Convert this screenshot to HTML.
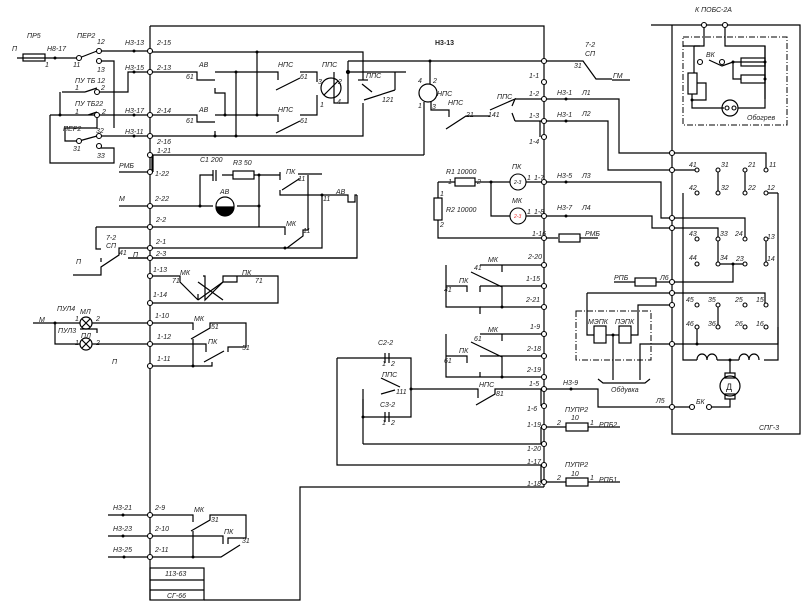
<!DOCTYPE html>
<html><head><meta charset="utf-8"><style>
html,body{margin:0;padding:0;background:#fff}
svg{display:block}
text{font-family:"Liberation Sans",sans-serif;font-style:italic;font-size:7px;fill:#222}
.l{stroke:#000;stroke-width:1.2;fill:none}
.t{fill:#fff;stroke:#000;stroke-width:1.1}
.d{fill:#000}
.dash{stroke:#000;stroke-width:1;fill:none;stroke-dasharray:6,2,1,2}
</style></head><body>
<svg width="812" height="616" viewBox="0 0 812 616" xmlns="http://www.w3.org/2000/svg">
<g class="l">
<!-- main frame -->
<path d="M150,26H544V487"/>
<path d="M150,26V600"/>
<!-- top-left inputs -->
<path d="M17,58H79"/><rect x="23" y="54" width="22" height="7"/>
<path d="M79,58L97,51"/>
<path d="M99,51H150"/>
<path d="M99,61H114V128"/>
<path d="M62,92H85M85,92L97,88"/><path d="M97,92H128V72H150"/>
<path d="M60,92V115"/>
<path d="M50,115H97M88,115L97,112"/><path d="M97,115H150"/>
<path d="M50,115V163H114V148H99"/>
<path d="M79,141L97,136"/><path d="M99,136H150"/>
<path d="M79,141H65V128H97V117"/>
<!-- top area lines -->
<path d="M150,52H363V80"/><path d="M358,80H368"/>
<path d="M257,52V115"/>
<path d="M150,72H197V80H215"/><path d="M215,72H278V80"/><path d="M215,88V93H225V115"/>
<path d="M150,115H197V122H215"/><path d="M215,115H278V122"/><path d="M215,131V136"/>
<path d="M236,72V136"/>
<path d="M150,136H363V103"/>
<path d="M276,90L300,78M300,72H317V82"/>
<path d="M276,133L300,121M300,115H317V95"/>
<circle cx="331" cy="88" r="10"/><path d="M324,95L338,81"/>
<path d="M334,72V103H348V72"/><path d="M348,72H406"/><path d="M348,61V72"/><circle class="d" cx="348" cy="72" r="1.5"/>
<path d="M364,100L395,90M395,90V72"/><path d="M372,92L362,84"/>
<path d="M348,61H544"/><path d="M430,61V84"/>
<circle cx="428" cy="93" r="9"/>
<path d="M424,102V155M150,155H424"/>
<path d="M431,102V110H449V117"/>
<path d="M446,129L466,116H490"/>
<path d="M490,110L515,99L512,106"/>
<path d="M515,99H544M515,121H544"/><path d="M512,113L515,121"/>
<path d="M544,61H583L596,79H612M612,80H630"/>
<!-- right connections -->
<path d="M544,99H619V153H766V170"/>
<path d="M544,121H608V170H697"/>
<path d="M544,182H661V218H745V239"/>
<path d="M544,216H652V228H718V264H745"/>
<path d="M733,264V282H656"/><rect x="635" y="278" width="21" height="8"/><path d="M614,282H635"/>
<path d="M718,170V193M745,170V193M766,239V264M718,304V327"/>
<!-- right panel -->
<path d="M651,25H800V434H672V25"/>
<path d="M704,25V46H683M725,25V46H765V99"/>
<rect x="683" y="37" width="104" height="88" class="dash"/>
<path d="M704,46V46"/>
<path d="M694,46V73M694,46H700M709,60L722,66L733,62H765"/>
<rect x="741" y="58" width="24" height="8"/><rect x="741" y="75" width="24" height="8"/>
<path d="M733,62V79H741M765,62V79"/>
<rect x="688" y="73" width="9" height="21"/><path d="M697,83H706V100H692V94M692,100V108H724"/>
<circle cx="730" cy="108" r="8"/><path d="M738,108H765V46"/>
<path d="M683,193V360H697M778,193H766M778,193V360H764"/>
<path d="M697,360c0,-8 10,-8 10,0c0,-8 10,-8 10,0M739,360c0,-8 10,-8 10,0c0,-8 10,-8 10,0"/>
<path d="M717,360H739M730,360V373"/><rect x="725" y="373" width="10" height="5"/>
<circle cx="730" cy="386" r="10"/><rect x="725" y="394" width="10" height="5"/><path d="M730,399V407H712"/>
<path d="M587,293H765V305M587,293V335H594"/>
<path d="M631,335H638V305H672"/>
<path d="M613,335V380M640,380V344H778V327"/><path d="M697,327V344"/>
<rect x="594" y="326" width="12" height="17"/><rect x="619" y="326" width="12" height="17"/><path d="M606,335H619"/>
<rect x="576" y="311" width="75" height="49" class="dash"/>
<path d="M598,379L603,383H645L650,379"/>
<path d="M544,389H598V407H672M672,407H690"/>
<!-- left side middle -->
<path d="M153,155V172"/>
<path d="M119,172H150M119,206H150"/>
<path d="M200,206V175H213M222,175H233"/><path d="M213,170V181M216,170V181"/>
<rect x="233" y="171" width="21" height="8"/><path d="M254,175H280M259,175V227"/>
<path d="M150,206H213M237,206H259"/>
<circle cx="225" cy="206" r="9"/><path d="M216,207A9,9 0 0,0 234,207Z" fill="#000"/>
<path d="M280,172V180M280,190V195H322M282,190L299,179H298M298,174H322"/>
<path d="M308,175V230M322,195V195"/>
<path d="M322,195H348V202H355V195H357M357,195V258H128"/>
<path d="M96,227H285V235M287,248L303,236V230H308"/>
<path d="M96,227V249H101M150,248H322V195"/>
<path d="M73,275H101V267L119,255V248H150"/>
<path d="M101,258V262"/><path d="M128,258H357"/>
<path d="M150,276H180V282L198,300M198,294V300M203,276H205V300L223,282H237V276M223,282V276H237"/><path d="M237,276H278V303H150"/>
<path d="M198,282L223,300M198,300L223,282"/>
<!-- lamps -->
<path d="M33,323H80M92,323H150M55,323V344H80M92,344H150"/>
<circle cx="86" cy="323" r="6"/><path d="M82,319L90,327M90,319L82,327"/>
<circle cx="86" cy="344" r="6"/><path d="M82,340L90,348M90,340L82,348"/>
<path d="M80,329H97V333"/>
<path d="M150,323H193V330M191,339L210,328V323H246V347H228V352M150,344H206V352M204,362L224,351M150,366H212V362M193,339V366"/>
<!-- bottom left -->
<path d="M108,515H150H193V522M191,531L210,520V515H246V538H228V544M108,536H150H223V544M108,557H150H221L240,545M193,531V557"/>
<rect x="150" y="568" width="54" height="32"/><path d="M150,580H204M150,590H204"/>
<path d="M204,600H300V487H544"/>
<!-- middle right contacts -->
<path d="M446,265V307H480V314M446,286H467V292"/><path d="M480,286H544M480,265H544"/><path d="M471,272L502,287V307M480,307H544"/><path d="M480,286V292M502,265V272"/>
<path d="M446,334V377H480V372M446,356H467V363M480,356H544M480,334H544M471,342L502,357V377M480,377H544M502,334V341"/>
<path d="M337,358H411V417H363V389"/>
<path d="M337,358V465H544"/>
<path d="M363,444H544M363,399V444"/>
<path d="M411,389H478V398M476,405L495,394V389H544"/>
<path d="M381,378L400,387M381,394L395,390"/>
<path d="M385,353V363M389,353V363M385,412V422M389,412V422"/>
<!-- R1 R2 -->
<path d="M438,182H455M475,182H510M526,182H544"/><rect x="455" y="178" width="20" height="8"/>
<path d="M491,182V216H510M526,216H544"/>
<path d="M438,182V198M438,220V238H558"/><rect x="434" y="198" width="8" height="22"/>
<rect x="559" y="234" width="21" height="8"/><path d="M580,238H598"/>
<path d="M544,427H566M588,427H620M544,482H566M588,482H620"/>
<rect x="566" y="423" width="22" height="8"/><rect x="566" y="478" width="22" height="8"/>
<path d="M541,389V406M541,427V444M541,465V482M540,121V137M152,155V172"/>
</g>
<circle cx="518" cy="182" r="8" class="t"/><circle cx="518" cy="216" r="8" class="t"/>
<g class="d">
<circle cx="55" cy="58" r="1.5"/><circle cx="134" cy="51" r="1.5"/><circle cx="134" cy="72" r="1.5"/><circle cx="134" cy="115" r="1.5"/><circle cx="134" cy="136" r="1.5"/><circle cx="60" cy="115" r="1.5"/>
<circle cx="257" cy="52" r="1.5"/><circle cx="257" cy="115" r="1.5"/><circle cx="236" cy="72" r="1.5"/><circle cx="236" cy="136" r="1.5"/><circle cx="225" cy="115" r="1.5"/><circle cx="215" cy="136" r="1.5"/>
<circle cx="430" cy="61" r="1.5"/><circle cx="491" cy="182" r="1.5"/><circle cx="566" cy="99" r="1.5"/><circle cx="566" cy="121" r="1.5"/><circle cx="566" cy="182" r="1.5"/><circle cx="566" cy="216" r="1.5"/><circle cx="571" cy="389" r="1.5"/>
<circle cx="200" cy="206" r="1.5"/><circle cx="259" cy="206" r="1.5"/><circle cx="259" cy="175" r="1.5"/><circle cx="322" cy="195" r="1.5"/><circle cx="285" cy="248" r="1.5"/>
<circle cx="55" cy="323" r="1.5"/><circle cx="193" cy="366" r="1.5"/><circle cx="193" cy="557" r="1.5"/>
<circle cx="123" cy="515" r="1.5"/><circle cx="123" cy="536" r="1.5"/><circle cx="124" cy="557" r="1.5"/>
<circle cx="502" cy="307" r="1.5"/><circle cx="502" cy="377" r="1.5"/><circle cx="411" cy="389" r="1.5"/><circle cx="363" cy="417" r="1.5"/>
<circle cx="733" cy="264" r="1.5"/><circle cx="697" cy="344" r="1.5"/><circle cx="613" cy="335" r="1.5"/><circle cx="730" cy="360" r="1.5"/><circle cx="733" cy="62" r="1.5"/><circle cx="765" cy="62" r="1.5"/><circle cx="765" cy="79" r="1.5"/><circle cx="692" cy="100" r="1.5"/>
</g>
<g class="t">
<circle cx="79" cy="58" r="2.5"/><circle cx="99" cy="51" r="2.5"/><circle cx="99" cy="61" r="2.5"/><circle cx="97" cy="92" r="2.5"/><circle cx="97" cy="115" r="2.5"/><circle cx="79" cy="141" r="2.5"/><circle cx="99" cy="136" r="2.5"/><circle cx="99" cy="146" r="2.5"/>
<circle cx="150" cy="51" r="2.5"/><circle cx="150" cy="72" r="2.5"/><circle cx="150" cy="115" r="2.5"/><circle cx="150" cy="136" r="2.5"/><circle cx="150" cy="155" r="2.5"/><circle cx="150" cy="172" r="2.5"/><circle cx="150" cy="206" r="2.5"/><circle cx="150" cy="227" r="2.5"/><circle cx="150" cy="248" r="2.5"/><circle cx="150" cy="258" r="2.5"/><circle cx="150" cy="276" r="2.5"/><circle cx="150" cy="303" r="2.5"/><circle cx="150" cy="323" r="2.5"/><circle cx="150" cy="344" r="2.5"/><circle cx="150" cy="366" r="2.5"/><circle cx="150" cy="515" r="2.5"/><circle cx="150" cy="536" r="2.5"/><circle cx="150" cy="557" r="2.5"/>
<circle cx="544" cy="61" r="2.5"/><circle cx="544" cy="82" r="2.5"/><circle cx="544" cy="99" r="2.5"/><circle cx="544" cy="121" r="2.5"/><circle cx="544" cy="137" r="2.5"/><circle cx="544" cy="182" r="2.5"/><circle cx="544" cy="216" r="2.5"/><circle cx="544" cy="238" r="2.5"/><circle cx="544" cy="265" r="2.5"/><circle cx="544" cy="286" r="2.5"/><circle cx="544" cy="307" r="2.5"/><circle cx="544" cy="334" r="2.5"/><circle cx="544" cy="356" r="2.5"/><circle cx="544" cy="377" r="2.5"/><circle cx="544" cy="389" r="2.5"/><circle cx="544" cy="406" r="2.5"/><circle cx="544" cy="427" r="2.5"/><circle cx="544" cy="444" r="2.5"/><circle cx="544" cy="465" r="2.5"/><circle cx="544" cy="482" r="2.5"/>
<circle cx="704" cy="25" r="2.5"/><circle cx="725" cy="25" r="2.5"/><circle cx="700" cy="62" r="2.5"/><circle cx="722" cy="62" r="2.5"/>
<circle cx="672" cy="153" r="2.5"/><circle cx="672" cy="170" r="2.5"/><circle cx="672" cy="218" r="2.5"/><circle cx="672" cy="228" r="2.5"/><circle cx="672" cy="282" r="2.5"/><circle cx="672" cy="293" r="2.5"/><circle cx="672" cy="305" r="2.5"/><circle cx="672" cy="344" r="2.5"/><circle cx="672" cy="407" r="2.5"/>
<circle cx="697" cy="170" r="2"/><circle cx="718" cy="170" r="2"/><circle cx="745" cy="170" r="2"/><circle cx="766" cy="170" r="2"/>
<circle cx="697" cy="193" r="2"/><circle cx="718" cy="193" r="2"/><circle cx="745" cy="193" r="2"/><circle cx="766" cy="193" r="2"/>
<circle cx="697" cy="239" r="2"/><circle cx="718" cy="239" r="2"/><circle cx="745" cy="239" r="2"/><circle cx="766" cy="239" r="2"/>
<circle cx="697" cy="264" r="2"/><circle cx="718" cy="264" r="2"/><circle cx="745" cy="264" r="2"/><circle cx="766" cy="264" r="2"/>
<circle cx="697" cy="305" r="2"/><circle cx="718" cy="305" r="2"/><circle cx="745" cy="305" r="2"/><circle cx="766" cy="305" r="2"/>
<circle cx="697" cy="327" r="2"/><circle cx="718" cy="327" r="2"/><circle cx="745" cy="327" r="2"/><circle cx="766" cy="327" r="2"/>
<circle cx="692" cy="407" r="2.5"/><circle cx="709" cy="407" r="2.5"/><circle cx="727" cy="108" r="2"/><circle cx="734" cy="108" r="2"/>
</g>
<text x="27" y="38">ПР5</text><text x="12" y="51">П</text><text x="47" y="51">Н8-17</text><text x="45" y="67">1</text>
<text x="77" y="38">ПЕР2</text><text x="97" y="44">12</text><text x="73" y="67">11</text><text x="97" y="72">13</text>
<text x="75" y="83">ПУ ТБ 12</text><text x="75" y="90">1</text><text x="101" y="90">2</text>
<text x="75" y="106">ПУ ТБ22</text><text x="75" y="114">1</text><text x="102" y="114">2</text>
<text x="63" y="131">ПЕР2</text><text x="96" y="133">32</text><text x="73" y="151">31</text><text x="97" y="158">33</text>
<text x="125" y="45">Н3-13</text><text x="125" y="70">Н3-15</text><text x="125" y="113">Н3-17</text><text x="125" y="134">Н3-11</text>
<text x="157" y="45">2-15</text><text x="157" y="70">2-13</text><text x="157" y="113">2-14</text><text x="157" y="144">2-16</text><text x="157" y="153">1-21</text><text x="155" y="176">1-22</text><text x="155" y="201">2-22</text><text x="156" y="222">2-2</text><text x="156" y="244">2-1</text><text x="156" y="256">2-3</text><text x="153" y="272">1-13</text><text x="153" y="297">1-14</text><text x="155" y="318">1-10</text><text x="157" y="339">1-12</text><text x="157" y="361">1-11</text>
<text x="155" y="510">2-9</text><text x="155" y="531">2-10</text><text x="155" y="552">2-11</text>
<text x="113" y="510">Н3-21</text><text x="113" y="531">Н3-23</text><text x="113" y="552">Н3-25</text>
<text x="165" y="576">113-63</text><text x="167" y="598">СГ-66</text>
<text x="199" y="67">АВ</text><text x="186" y="79">61</text><text x="199" y="112">АВ</text><text x="186" y="123">61</text>
<text x="278" y="67">НПС</text><text x="300" y="79">61</text><text x="278" y="112">НПС</text><text x="300" y="123">61</text>
<text x="322" y="67">ППС</text><text x="318" y="84">3</text><text x="338" y="84">2</text><text x="320" y="107">1</text><text x="337" y="104">4</text>
<text x="366" y="78">ППС</text><text x="382" y="102">121</text>
<text x="435" y="45" style="font-weight:bold;font-style:normal">Н3-13</text>
<text x="418" y="83">4</text><text x="433" y="83">2</text><text x="437" y="96">НПС</text><text x="448" y="105">НПС</text><text x="418" y="108">1</text><text x="432" y="109">3</text><text x="466" y="117">21</text><text x="488" y="117">141</text><text x="497" y="99">ППС</text>
<text x="529" y="78">1-1</text><text x="529" y="96">1-2</text><text x="529" y="118">1-3</text><text x="529" y="144">1-4</text>
<text x="557" y="95">Н3-1</text><text x="582" y="95">Л1</text><text x="557" y="117">Н3-1</text><text x="582" y="116">Л2</text>
<text x="585" y="47">7-2</text><text x="585" y="56">СП</text><text x="574" y="68">31</text><text x="613" y="78">ГМ</text>
<text x="446" y="174">R1 10000</text><text x="448" y="184">1</text><text x="477" y="184">2</text><text x="446" y="212">R2 10000</text><text x="440" y="196">1</text><text x="440" y="227">2</text>
<text x="512" y="169">ПК</text><text x="512" y="203">МК</text><text x="514" y="184" style="font-size:5px">2-3</text><text x="514" y="218" style="font-size:5px;fill:#e33">2-3</text><text x="527" y="180">1</text><text x="534" y="180">1-7</text><text x="527" y="214">1</text><text x="534" y="214">1-8</text><text x="532" y="236">1-16</text>
<text x="557" y="178">Н3-5</text><text x="582" y="178">Л3</text><text x="557" y="210">Н3-7</text><text x="582" y="210">Л4</text><text x="585" y="236">РМБ</text>
<text x="695" y="12">К ПОБС-2А</text><text x="706" y="57">ВК</text><text x="747" y="120">Обогрев</text>
<text x="689" y="167">41</text><text x="721" y="167">31</text><text x="748" y="167">21</text><text x="769" y="167">11</text>
<text x="689" y="190">42</text><text x="721" y="190">32</text><text x="748" y="190">22</text><text x="767" y="190">12</text>
<text x="689" y="236">43</text><text x="720" y="236">33</text><text x="735" y="236">24</text><text x="767" y="239">13</text>
<text x="689" y="260">44</text><text x="720" y="260">34</text><text x="736" y="261">23</text><text x="767" y="261">14</text>
<text x="686" y="302">45</text><text x="708" y="302">35</text><text x="735" y="302">25</text><text x="756" y="302">15</text>
<text x="686" y="326">46</text><text x="708" y="326">36</text><text x="735" y="326">26</text><text x="756" y="326">16</text>
<text x="614" y="280">РПБ</text><text x="660" y="280">Л6</text><text x="588" y="324">МЭПК</text><text x="615" y="324">ПЭПК</text><text x="611" y="392">Обдувка</text>
<text x="656" y="403">Л5</text><text x="696" y="404">БК</text><text x="726" y="390" style="font-style:normal;font-size:9px">Д</text><text x="759" y="430">СПГ-3</text>
<text x="528" y="259">2-20</text><text x="526" y="281">1-15</text><text x="526" y="302">2-21</text><text x="530" y="329">1-9</text><text x="527" y="351">2-18</text><text x="527" y="372">2-19</text><text x="529" y="386">1-5</text><text x="527" y="411">1-6</text><text x="527" y="427">1-19</text><text x="527" y="451">1-20</text><text x="527" y="464">1-17</text><text x="527" y="486">1-18</text>
<text x="488" y="262">МК</text><text x="474" y="270">41</text><text x="459" y="283">ПК</text><text x="444" y="292">41</text>
<text x="488" y="332">МК</text><text x="474" y="341">61</text><text x="459" y="353">ПК</text><text x="444" y="363">61</text>
<text x="479" y="387">НПС</text><text x="496" y="396">81</text><text x="563" y="385">Н3-9</text>
<text x="378" y="345">С2-2</text><text x="382" y="366">1</text><text x="391" y="366">2</text><text x="382" y="377">ППС</text><text x="396" y="394">111</text><text x="380" y="407">С3-2</text><text x="382" y="425">1</text><text x="391" y="425">2</text>
<text x="565" y="412">ПУПР2</text><text x="571" y="420">10</text><text x="557" y="425">2</text><text x="590" y="425">1</text><text x="599" y="427">РПБ2</text>
<text x="565" y="467">ПУПР2</text><text x="571" y="476">10</text><text x="557" y="480">2</text><text x="590" y="480">1</text><text x="599" y="482">РПБ1</text>
<text x="200" y="162">С1 200</text><text x="233" y="165">R3 50</text><text x="220" y="194">АВ</text><text x="286" y="174">ПК</text><text x="298" y="181">11</text><text x="336" y="194">АВ</text><text x="323" y="201">11</text><text x="286" y="226">МК</text><text x="303" y="233">11</text>
<text x="119" y="168">РМБ</text><text x="119" y="201">М</text><text x="106" y="240">7-2</text><text x="106" y="248">СП</text><text x="119" y="255">41</text><text x="133" y="257">П</text><text x="76" y="264">П</text>
<text x="180" y="275">МК</text><text x="172" y="283">71</text><text x="242" y="275">ПК</text><text x="255" y="283">71</text>
<text x="57" y="311">ПУЛ4</text><text x="80" y="314">МЛ</text><text x="75" y="321">1</text><text x="96" y="321">2</text><text x="58" y="333">ПУЛ3</text><text x="81" y="338">ПЛ</text><text x="75" y="345">1</text><text x="96" y="345">2</text><text x="39" y="322">М</text><text x="112" y="364">П</text>
<text x="194" y="321">МК</text><text x="211" y="329">51</text><text x="208" y="344">ПК</text><text x="242" y="350">51</text>
<text x="194" y="512">МК</text><text x="211" y="522">31</text><text x="224" y="534">ПК</text><text x="242" y="543">31</text>
</svg>
</body></html>
